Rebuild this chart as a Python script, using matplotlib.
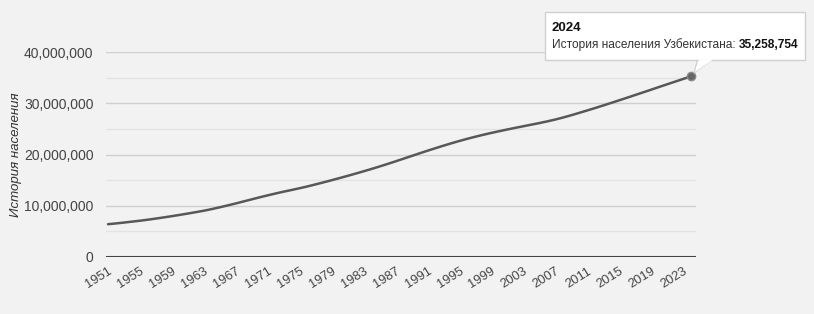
import matplotlib
matplotlib.use("Agg")
import matplotlib.pyplot as plt
from matplotlib.patches import Rectangle, Polygon
from matplotlib.ticker import FuncFormatter, MultipleLocator

plt.rcParams['font.family'] = ['Liberation Sans', 'DejaVu Sans']

years = list(range(1951, 2025))
population = [
    6.40, 6.55, 6.72, 6.90, 7.08, 7.28, 7.50, 7.73, 7.97, 8.22,
    8.48, 8.75, 9.03, 9.35, 9.70, 10.07, 10.45, 10.85, 11.25, 11.65,
    12.03, 12.40, 12.75, 13.08, 13.42, 13.78, 14.17, 14.57, 14.98, 15.40,
    15.83, 16.27, 16.72, 17.18, 17.66, 18.15, 18.66, 19.18, 19.70, 20.22,
    20.73, 21.23, 21.72, 22.19, 22.64, 23.07, 23.47, 23.85, 24.21, 24.55,
    24.88, 25.20, 25.51, 25.82, 26.13, 26.46, 26.82, 27.22, 27.66, 28.12,
    28.59, 29.07, 29.56, 30.06, 30.57, 31.08, 31.60, 32.12, 32.64, 33.17,
    33.69, 34.21, 34.73, 35.258754,
]
population = [v * 1e6 for v in population]
xtick_years = list(range(1951, 2024, 4))
y_label = "История населения"
tip_year = "2024"
tip_series = "История населения Узбекистана: "
tip_value = "35,258,754"

W, H = 814, 314
BG = "#f2f2f2"
fig = plt.figure(figsize=(W / 100, H / 100), dpi=100, facecolor=BG)

def fx(px):
    return px / W

def fy(py):
    return 1 - py / H

ax_l, ax_r, ax_t, ax_b = 106, 696, 52, 257
ax = fig.add_axes([fx(ax_l), fy(ax_b), fx(ax_r - ax_l), (ax_b - ax_t) / H])
ax.set_facecolor(BG)

ax.plot(years, population, color="#585858", lw=1.8, solid_capstyle="round", zorder=3)
ax.plot([years[-1]], [population[-1]], 'o', color="#666666", ms=6, zorder=4,
        markeredgecolor="#888888", markeredgewidth=1)

ax.set_xlim(1950.75, 2024.63)
ax.set_ylim(0, 40e6)
ax.yaxis.set_major_locator(MultipleLocator(10e6))
ax.yaxis.set_minor_locator(MultipleLocator(5e6))
ax.yaxis.set_major_formatter(FuncFormatter(lambda v, p: f"{int(v):,}"))
ax.grid(axis='y', which='major', color="#cfcfcf", lw=1)
ax.grid(axis='y', which='minor', color="#e3e3e3", lw=1)
ax.set_axisbelow(True)
ax.axhline(0, color="#444444", lw=1.5, zorder=2)
for s in ax.spines.values():
    s.set_visible(False)

ax.set_xticks(xtick_years)
ax.set_xticklabels([str(y) for y in xtick_years], rotation=32, ha='right',
                   rotation_mode='anchor', fontsize=9.3, color="#444444")
ax.tick_params(axis='x', length=0, pad=6)
ax.tick_params(axis='y', which='both', length=0, pad=9, labelsize=10, labelcolor="#444444")

fig.text(fx(16), fy(155), y_label, rotation=90, style='italic', fontsize=9.5,
         color="#333333", ha='center', va='center')

# tooltip
pointer = Polygon([(fx(698), fy(58)), (fx(714), fy(58)), (fx(694), fy(73))],
                  closed=True, transform=fig.transFigure, facecolor="white",
                  edgecolor="#d0d0d0", lw=1, zorder=5)
fig.add_artist(pointer)
box = Rectangle((fx(545), fy(60)), fx(805 - 545), (60 - 12) / H,
                transform=fig.transFigure, facecolor="white",
                edgecolor="#d0d0d0", lw=1, zorder=6)
fig.add_artist(box)
cover = Polygon([(fx(699), fy(59.5)), (fx(713), fy(59.5)), (fx(695), fy(72))],
                closed=True, transform=fig.transFigure, facecolor="white",
                edgecolor="none", zorder=7)
fig.add_artist(cover)

fig.text(fx(552), fy(31), tip_year, fontsize=9.5, fontweight='bold', color="#111111",
         ha='left', va='baseline', zorder=8)
t1 = fig.text(fx(552), fy(48), tip_series, fontsize=8.6, color="#333333",
              ha='left', va='baseline', zorder=8)
fig.canvas.draw()
bb = t1.get_window_extent(renderer=fig.canvas.get_renderer())
x_end = bb.x1 / (fig.dpi * fig.get_figwidth())
fig.text(x_end, fy(48), tip_value, fontsize=8.6, fontweight='bold', color="#111111",
         ha='left', va='baseline', zorder=8)

fig.savefig("out.png", dpi=100, facecolor=BG)
